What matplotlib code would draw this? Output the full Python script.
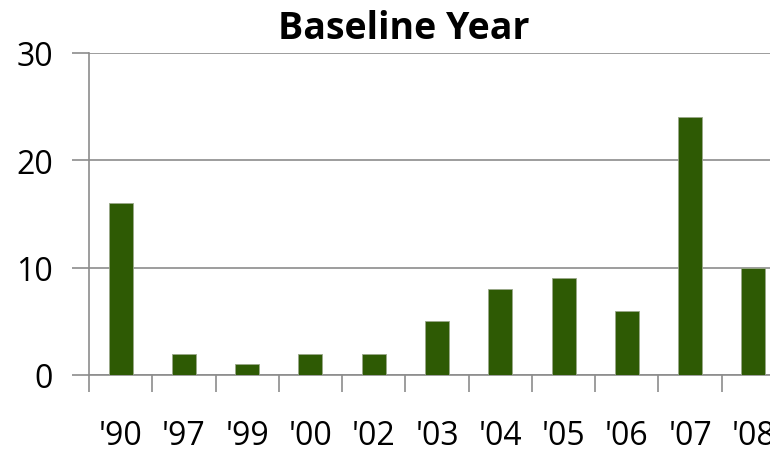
import matplotlib
matplotlib.use('Agg')
import matplotlib.pyplot as plt
import numpy as np

years = ["'90", "'97", "'99", "'00", "'02", "'03", "'04", "'05", "'06", "'07", "'08"]
counts = [16, 2, 1, 2, 2, 5, 8, 9, 6, 24, 10]

plt.rcParams['font.family'] = ['Open Sans', 'DejaVu Sans']

fig = plt.figure(figsize=(7.7, 4.52), dpi=100)
ax = fig.add_axes([89 / 770, 76 / 452, 696 / 770, 322 / 452])

x = np.arange(len(years))
ax.bar(x, counts, width=0.38, color='#2e5a04', edgecolor='#9aa88a', linewidth=0.6, zorder=3)

ax.set_xlim(-0.5, len(years) - 0.5)
ax.set_ylim(0, 30)
ax.set_yticks([0, 10, 20, 30])
ax.yaxis.grid(True, color='#8c8c8c', linewidth=1.2, zorder=0)

# category boundary ticks, labels centred between them
ax.set_xticks(np.arange(-0.5, len(years), 1.0))
ax.set_xticklabels([])
ax.set_xticks(x, minor=True)
ax.set_xticklabels(years, minor=True, fontsize=23)
ax.tick_params(axis='x', which='major', length=12, width=1.2, color='#8c8c8c', direction='out')
ax.tick_params(axis='x', which='minor', length=0, pad=32)
ax.tick_params(axis='y', length=12, width=1.2, color='#8c8c8c', labelsize=23, pad=14)

for side in ['top', 'right']:
    ax.spines[side].set_visible(False)
for side in ['left', 'bottom']:
    ax.spines[side].set_color('#8c8c8c')
    ax.spines[side].set_linewidth(1.2)

fig.text(0.525, 0.935, 'Baseline Year', ha='center', va='center', fontsize=27, fontweight='bold')

fig.savefig('out.png', dpi=100)
